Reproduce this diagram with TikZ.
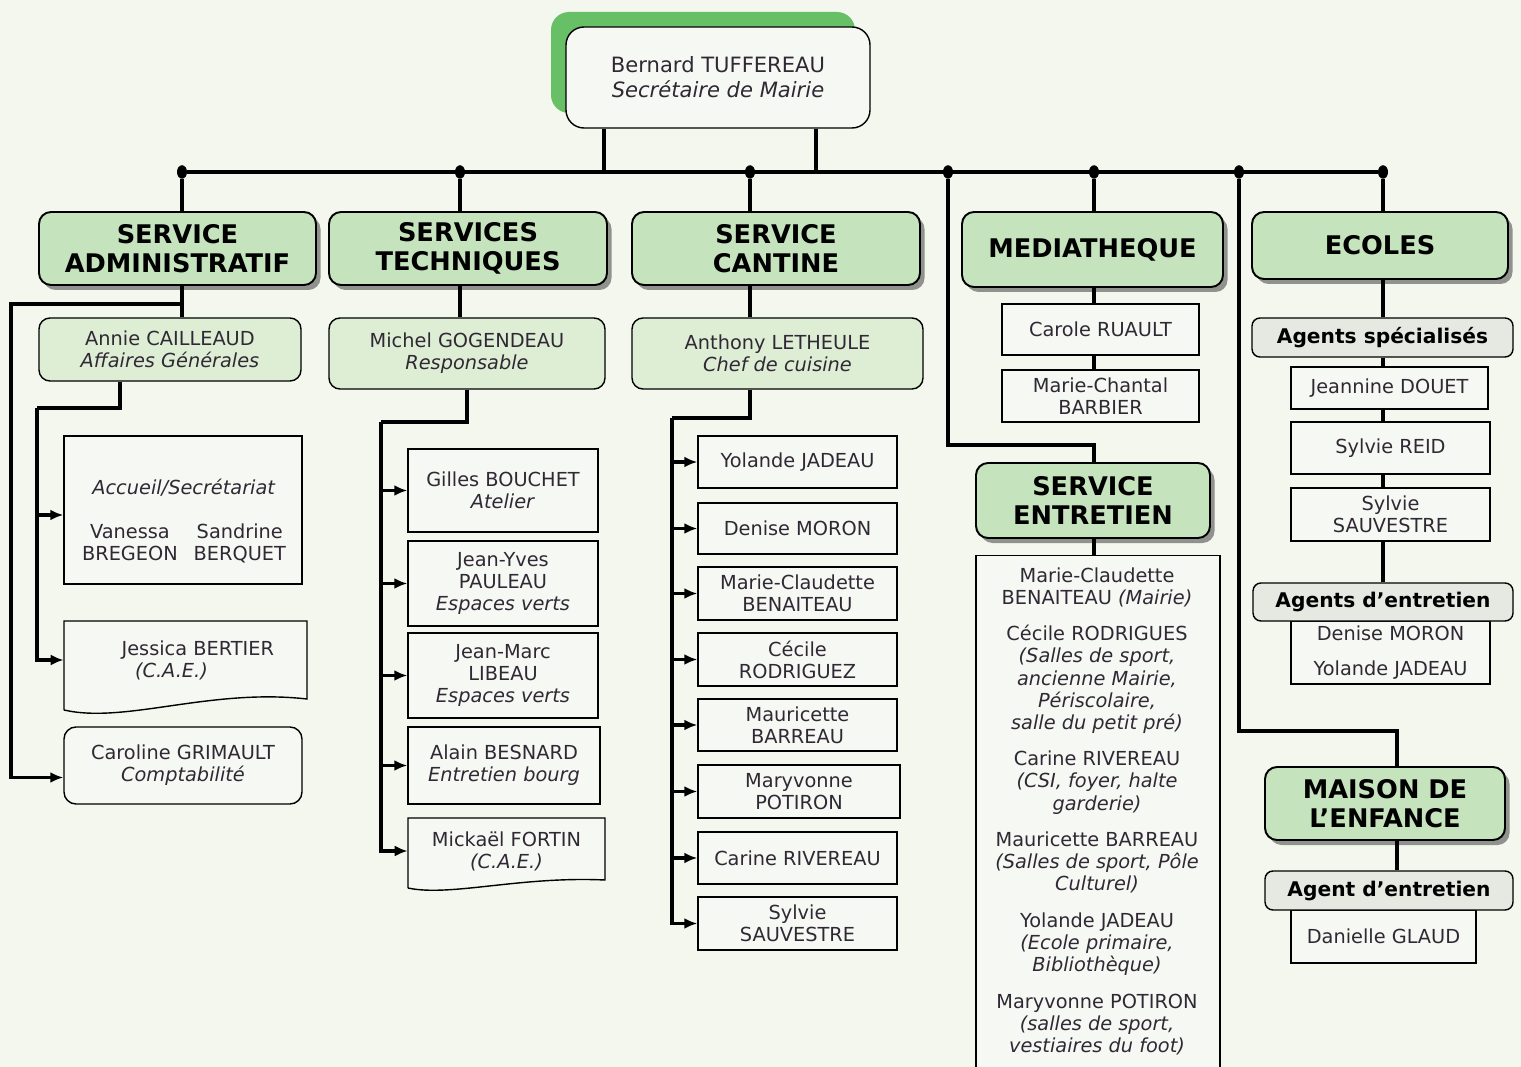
\documentclass[tikz,border=0pt]{standalone}
\usepackage{fontspec}
\setmainfont{DejaVu Sans}
\usetikzlibrary{arrows.meta,shadows,shapes.geometric}
\definecolor{fondo}{RGB}{243,247,238}
\definecolor{verde}{RGB}{197,227,189}
\definecolor{verdeclaro}{RGB}{222,238,213}
\definecolor{verdesombra}{RGB}{104,192,102}
\definecolor{gris}{RGB}{230,233,226}
\definecolor{caja}{RGB}{246,249,243}
\definecolor{texto}{RGB}{48,40,52}

\begin{document}
\begin{tikzpicture}[x=0.02cm, y=-0.02cm, font=\fontsize{11}{12.6}\selectfont, text=texto]
	% formatos
	\tikzset{dim/.style 2 args={minimum width=#1*0.02cm, minimum height=#2*0.02cm}}
	\tikzstyle{head} = [draw, rounded corners=0.24cm, fill=verde, line width=1.1pt, inner sep=0, align=center, text=black, font=\fontsize{14.6}{16.2}\selectfont\bfseries, drop shadow={shadow xshift=0.09cm, shadow yshift=-0.1cm, opacity=0.55, fill=black!75}]
	\tikzstyle{chief} = [draw, rounded corners=0.22cm, fill=verdeclaro, thick, inner sep=0, align=center]
	\tikzstyle{person} = [draw, fill=caja, thick, inner sep=0, align=center]
	\tikzstyle{team} = [draw, rounded corners=0.16cm, fill=gris, thick, inner sep=0, text=black, font=\fontsize{11.5}{13}\selectfont\bfseries]
	\tikzstyle{doc} = [inner sep=0, align=center]
	\tikzstyle{dot} = [ellipse, fill=black, inner sep=0, minimum width=0.2cm, minimum height=0.27cm]
	\tikzstyle{link} = [line width=1.9pt]
	\tikzstyle{arrow} = [link, -{Latex[length=0.26cm, width=0.22cm]}]
	% fondo
	\path [use as bounding box, fill=fondo] (0,0) rectangle (1521,1067);
	% nodos
	\node [person, dim={304}{101}, rounded corners=0.36cm, font=\fontsize{12}{14.2}\selectfont, general shadow={shadow xshift=-0.3cm, shadow yshift=0.3cm, fill=verdesombra}] (bernard) at (718,77.5) {Bernard TUFFEREAU\\\textit{Secrétaire de Mairie}};
	\node [dot] (d1) at (182,172) {};
	\node [dot] (d2) at (460,172) {};
	\node [dot] (d3) at (750,172) {};
	\node [dot] (d4) at (948,172) {};
	\node [dot] (d5) at (1094,172) {};
	\node [dot] (d6) at (1239,172) {};
	\node [dot] (d7) at (1383,172) {};
	\node [head, dim={277}{73}] (sadm) at (177.5,248.5) {SERVICE\\ADMINISTRATIF};
	\node [head, dim={278}{73}] (stech) at (468,248.5) {SERVICES\\TECHNIQUES};
	\node [head, dim={288}{73}] (scant) at (776,248.5) {SERVICE\\CANTINE};
	\node [head, dim={261}{75}] (media) at (1092.5,249.5) {MEDIATHEQUE};
	\node [head, dim={256}{67}] (ecoles) at (1380,245.5) {ECOLES};
	\node [head, dim={234}{75}] (sentr) at (1093,500.5) {SERVICE\\ENTRETIEN};
	\node [head, dim={240}{73}] (maison) at (1385,803.5) {MAISON DE\\L'ENFANCE};
	% service administratif
	\node [chief, dim={262}{63}] (annie) at (170,349.5) {Annie CAILLEAUD\\\textit{Affaires Générales}};
	\node [person, dim={238}{148}] (accueil) at (183,510) {};
	\node [doc] (accueiltxt) at (184,523) {\textit{Accueil/Secrétariat}\\[14pt]
		\begin{tabular}{@{}c@{\hspace{9pt}}c@{}}Vanessa & Sandrine\\ BREGEON & BERQUET\end{tabular}};
	\draw [thick, fill=caja] (64,710) -- (64,621) -- (307,621) -- (307,699) .. controls (210,688) and (125,724) .. (64,710);
	\node [doc, dim={243}{78}] (jessica) at (185.5,660) {\hspace{14pt}Jessica BERTIER\\\textit{(C.A.E.)}\hspace*{16pt}};
	\node [person, dim={238}{77}, rounded corners=0.24cm] (caroline) at (183,765.5) {Caroline GRIMAULT\\\textit{Comptabilité}};
	% services techniques
	\node [chief, dim={276}{71}] (michel) at (467,353.5) {Michel GOGENDEAU\\\textit{Responsable}};
	\node [person, dim={190}{83}] (gilles) at (503,490.5) {Gilles BOUCHET\\\textit{Atelier}};
	\node [person, dim={190}{85}] (jeanyves) at (503,583.5) {Jean-Yves\\PAULEAU\\\textit{Espaces verts}};
	\node [person, dim={190}{85}] (jeanmarc) at (503,675.5) {Jean-Marc\\LIBEAU\\\textit{Espaces verts}};
	\node [person, dim={192}{77}] (alain) at (504,765.5) {Alain BESNARD\\\textit{Entretien bourg}};
	\draw [thick, fill=caja] (408,888) -- (408,818) -- (605,818) -- (605,880) .. controls (520,876) and (450,897) .. (408,888);
	\node [doc, dim={197}{68}] (mickael) at (506.5,851) {Mickaël FORTIN\\\textit{(C.A.E.)}};
	% service cantine
	\node [chief, dim={291}{71}] (anthony) at (777.5,353.5) {Anthony LETHEULE\\\textit{Chef de cuisine}};
	\node [person, dim={199}{52}] (yolande) at (797.5,462) {Yolande JADEAU};
	\node [person, dim={199}{51}] (denise) at (797.5,528.5) {Denise MORON};
	\node [person, dim={199}{53}] (mclaude) at (797.5,593.5) {Marie-Claudette\\BENAITEAU};
	\node [person, dim={199}{53}] (cecile) at (797.5,659.5) {Cécile\\RODRIGUEZ};
	\node [person, dim={199}{52}] (mauricette) at (797.5,725) {Mauricette\\BARREAU};
	\node [person, dim={202}{53}] (maryvonne) at (799,791.5) {Maryvonne\\POTIRON};
	\node [person, dim={199}{52}] (carine) at (797.5,858) {Carine RIVEREAU};
	\node [person, dim={199}{53}] (sylvie) at (797.5,923.5) {Sylvie\\SAUVESTRE};
	% mediatheque et entretien
	\node [person, dim={197}{51}] (carole) at (1100.5,329.5) {Carole RUAULT};
	\node [person, dim={197}{52}] (barbier) at (1100.5,396) {Marie-Chantal\\BARBIER};
	\node [person, dim={244}{530}, anchor=north] (entbox) at (1098,555) {};
	\node [doc, anchor=north] (entlist) at (1097,567) {Marie-Claudette\\BENAITEAU \textit{(Mairie)}\\[8.2pt]
		Cécile RODRIGUES\\\textit{(Salles de sport,}\\\textit{ancienne Mairie,}\\\textit{Périscolaire,}\\\textit{salle du petit pré)}\\[8.2pt]
		Carine RIVEREAU\\\textit{(CSI, foyer, halte}\\\textit{garderie)}\\[8.2pt]
		Mauricette BARREAU\\\textit{(Salles de sport, Pôle}\\\textit{Culturel)}\\[8.2pt]
		Yolande JADEAU\\\textit{(Ecole primaire,}\\\textit{Bibliothèque)}\\[8.2pt]
		Maryvonne POTIRON\\\textit{(salles de sport,}\\\textit{vestiaires du foot)}};
	% ecoles et maison de l'enfance
	\node [team, dim={261}{39}] (agspec) at (1382.5,337.5) {Agents spécialisés};
	\node [person, dim={197}{42}] (douet) at (1389.5,388) {Jeannine DOUET};
	\node [person, dim={199}{52}] (reid) at (1390.5,448) {Sylvie REID};
	\node [person, dim={199}{53}] (sauvestre) at (1390.5,514.5) {Sylvie\\SAUVESTRE};
	\node [person, dim={199}{63}] (agentrbox) at (1390.5,652.5) {Denise MORON\\[7pt]Yolande JADEAU};
	\node [team, dim={260}{38}] (agentr) at (1383,602) {Agents d’entretien};
	\node [person, dim={185}{53}] (danielle) at (1383.5,936.5) {Danielle GLAUD};
	\node [team, dim={248}{39}] (agent) at (1389,890.5) {Agent d’entretien};
	% relaciones
	\draw [link] ([xshift=-2.28cm]bernard.south) -- ++(0,44);
	\draw [link] ([xshift=1.96cm]bernard.south) -- ++(0,44);
	\draw [link] (d1) -- (d7);
	\foreach \d/\h in {d1/sadm, d2/stech, d3/scant, d5/media, d7/ecoles}
		\draw [link] (\d) -- (\d |- \h.north);
	\coordinate (a1) at (11,304);
	\coordinate (a2) at (120,408);
	\coordinate (a3) at (37,408);
	\draw [link] (d1 |- sadm.south) -- (d1 |- annie.north);
	\draw [arrow] (d1 |- a1) -- (a1) |- ([yshift=-0.24cm]caroline.west);
	\draw [link] (a2 |- annie.south) -- (a2) -- (a3);
	\draw [arrow] (a3) |- ([yshift=-0.1cm]accueil.west);
	\draw [arrow] (a3) |- (jessica.west);
	\coordinate (t1) at (467,422);
	\coordinate (t2) at (381,422);
	\draw [link] (d2 |- stech.south) -- (d2 |- michel.north);
	\draw [link] (t1 |- michel.south) -- (t1) -- (t2);
	\foreach \p in {gilles, jeanyves, jeanmarc, alain, mickael}
		\draw [arrow] (t2) |- (\p.west);
	\coordinate (c1) at (750,418);
	\coordinate (c2) at (672,418);
	\draw [link] (d3 |- scant.south) -- (d3 |- anthony.north);
	\draw [link] (c1 |- anthony.south) -- (c1) -- (c2);
	\foreach \p in {yolande, denise, mclaude, cecile, mauricette, maryvonne, carine, sylvie}
		\draw [arrow] (c2) |- (\p.west);
	\draw [link] (d5 |- media.south) -- (d5 |- carole.north);
	\draw [link] (d5 |- carole.south) -- (d5 |- barbier.north);
	\coordinate (e1) at (948,445);
	\draw [link] (d4) -- (e1) -| (d5 |- sentr.north);
	\draw [link] (d5 |- sentr.south) -- (d5 |- entbox.north);
	\draw [link] (d7 |- ecoles.south) -- (d7 |- agspec.north);
	\draw [link] (d7 |- agspec.south) -- (d7 |- douet.north);
	\draw [link] (d7 |- douet.south) -- (d7 |- reid.north);
	\draw [link] (d7 |- reid.south) -- (d7 |- sauvestre.north);
	\draw [link] (d7 |- sauvestre.south) -- (d7 |- agentr.north);
	\coordinate (m1) at (1239,731);
	\coordinate (m2) at (1397,731);
	\draw [link] (d6) -- (m1) -- (m2) -- (m2 |- maison.north);
	\draw [link] (m2 |- maison.south) -- (m2 |- agent.north);
\end{tikzpicture}
\end{document}
